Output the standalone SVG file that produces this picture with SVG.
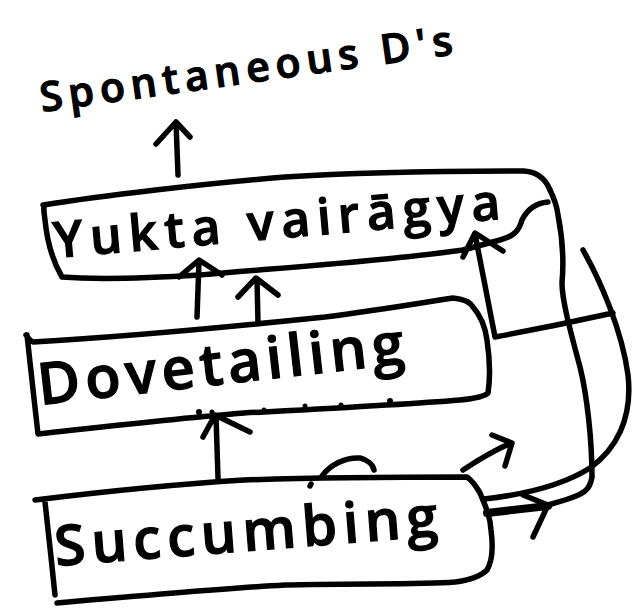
<svg xmlns="http://www.w3.org/2000/svg" width="636" height="611" viewBox="0 0 636 611">
  <style>
    .ink { fill: none; stroke: #000; stroke-width: 5.5; stroke-linecap: round; stroke-linejoin: round; }
    .thick { stroke-width: 8; }
    .dot { fill: #000; }
    .hand { font-family: "Open Sans", "Liberation Sans", sans-serif; font-weight: 600; fill: #000; stroke: #000; stroke-width: 1.2; }
  </style>
  <rect width="636" height="611" fill="#fff"/>

  <!-- title at the top -->
  <g id="spontaneous">
    <text class="hand" x="42" y="112" font-size="41" textLength="416" lengthAdjust="spacing" transform="rotate(-8 42 112)">Spontaneous D's</text>
  </g>

  <!-- top box -->
  <g id="yukta">
    <path class="ink" d="M548,202 C535,203 527,210 522,220 C519,230 515,236 500,240 L463,250 C380,262 250,270 200,275 C150,278 100,280 62,277 C52,260 47,240 45,220 C44,212 43,207 45,205 M43,205 C100,196 200,184 285,177 C360,172 450,171 524,171 C538,172 546,180 550,190"/>
    <text class="hand" x="55" y="258" font-size="50" textLength="448" lengthAdjust="spacing" transform="rotate(-5 55 258)">Yukta vairāgya</text>
  </g>

  <!-- middle box -->
  <g id="dovetailing">
    <path class="ink" d="M26,335 C28,338 30,341 33,342 C100,338 200,330 325,317 C380,310 420,303 453,298 C465,299 470,302 473,307 C480,315 485,325 487,340 C490,360 490,380 488,393 C484,397 470,399 460,400 C400,405 300,410 244,413 C180,418 120,425 38,434 C34,400 30,360 27,335"/>
    <circle class="dot" cx="199" cy="412" r="3"/>
    <circle class="dot" cx="212" cy="412" r="2.5"/>
    <circle class="dot" cx="264" cy="410" r="2.5"/>
    <circle class="dot" cx="305" cy="406" r="2.5"/>
    <circle class="dot" cx="341" cy="405" r="2.5"/>
    <circle class="dot" cx="390" cy="401" r="3"/>
    <text class="hand" x="40" y="405" font-size="58" textLength="368" lengthAdjust="spacing" transform="rotate(-6.5 40 405)">Dovetailing</text>
  </g>

  <!-- bottom box -->
  <g id="succumbing">
    <path class="ink" d="M35,500 C100,492 180,484 244,480 C300,478 400,477 467,477 C474,482 477,488 480,493 C485,505 490,515 491,530 C493,545 493,560 487,570 C480,577 470,580 455,582 C420,585 350,583 285,585 C230,588 160,594 57,603 M45,502 C48,530 52,565 55,595"/>
    <path class="ink" d="M310,486 L311,484 M322,476 C330,465 345,457 360,458 C368,460 373,465 374,470"/>
    <text class="hand" x="56" y="566" font-size="56" textLength="384" lengthAdjust="spacing" transform="rotate(-4.5 56 566)">Succumbing</text>
  </g>

  <!-- connectors -->
  <g id="connectors">
    <!-- to the title -->
    <path class="ink" d="M178,175 L176,122 M156,144 L176,122 L190,137"/>
    <!-- dovetailing up to yukta -->
    <path class="ink" d="M197,317 L199,261 M179,277 L199,260 L222,275"/>
    <path class="ink" d="M258,323 L257,279 M238,297 L256,278 L278,295"/>
    <!-- succumbing up to dovetailing -->
    <path class="ink" d="M218,478 L216,416 M203,437 L215,415 L250,432"/>
    <!-- short arrow off the bottom box -->
    <path class="ink" d="M463,470 C478,460 495,450 511,443 M492,435 L512,443 L505,466"/>
    <!-- right-hand loop back into yukta -->
    <path class="ink" d="M613,313 C590,318 560,325 495,337 L475,234 M463,257 L475,233 L503,251"/>
    <path class="ink" d="M550,190 C555,200 557,207 558,215 C562,235 564,260 562,283 C562,300 570,330 580,367 C587,395 592,440 592,477 C590,490 584,494 565,500 L548,505"/>
    <path class="ink" d="M583,250 C600,280 622,330 628,375 C633,420 615,450 590,468 C560,487 520,495 484,499"/>
    <path class="ink thick" d="M487,513 L548,506"/>
    <path class="ink" d="M523,495 L548,505 L533,537"/>
  </g>
</svg>
